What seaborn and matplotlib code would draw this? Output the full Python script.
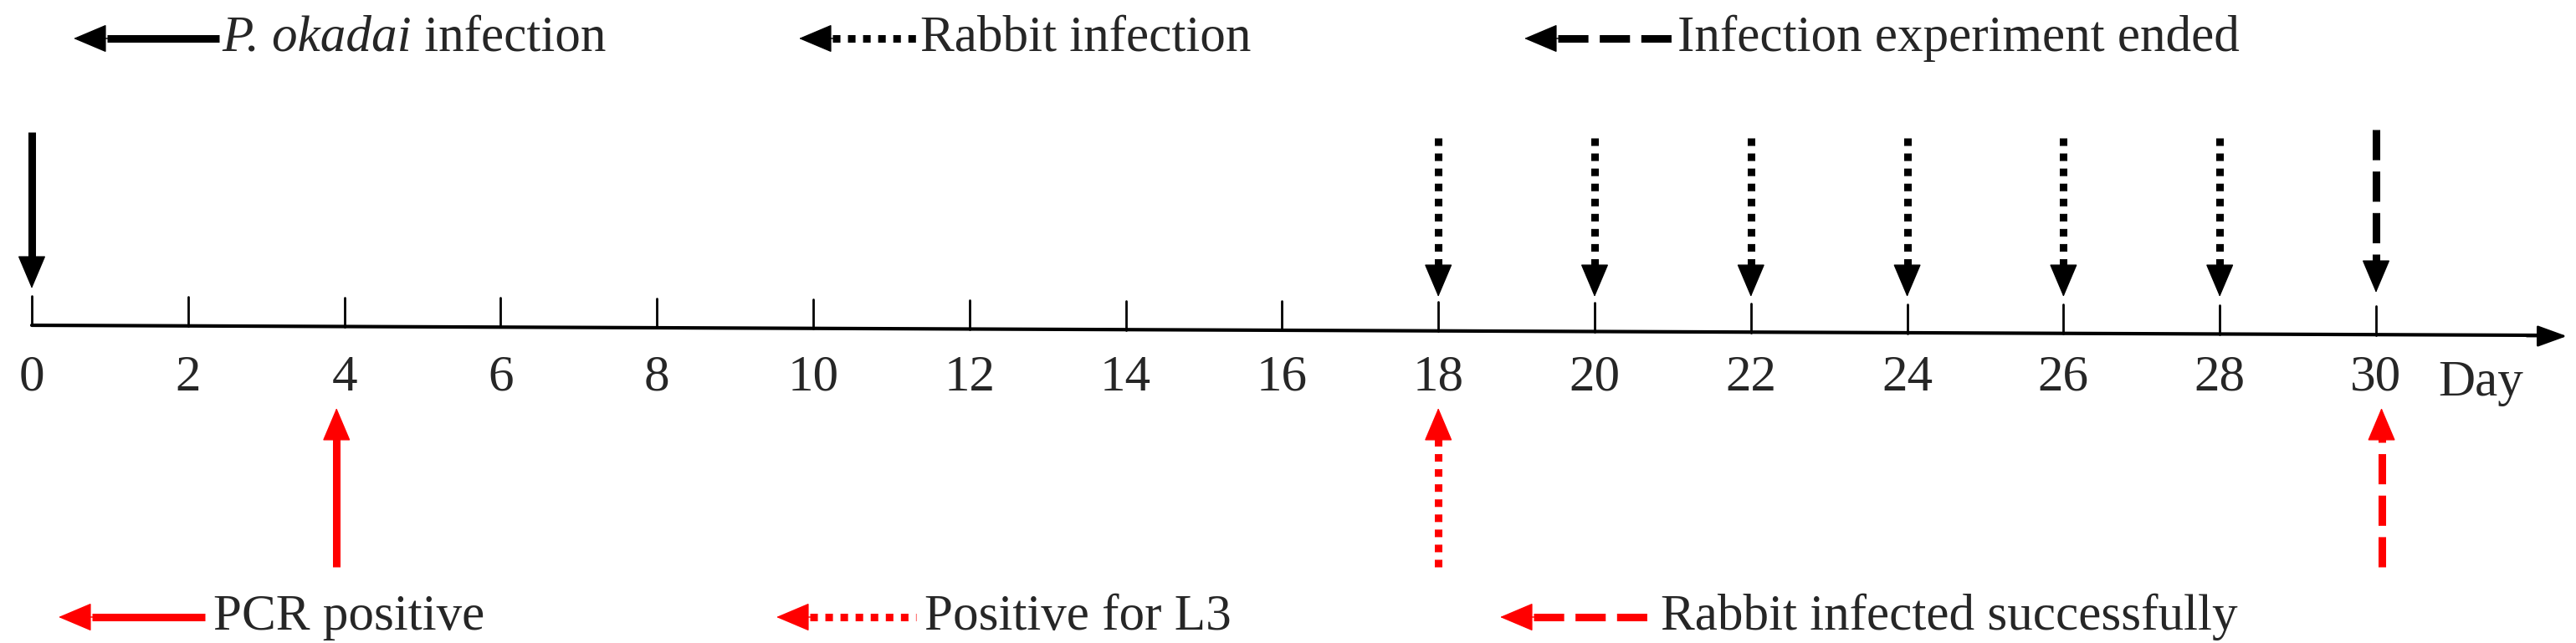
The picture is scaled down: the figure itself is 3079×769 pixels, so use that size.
import matplotlib
matplotlib.use("Agg")
import matplotlib.pyplot as plt
import seaborn as sns

sns.set_theme(style="white")
plt.rcParams['font.family'] = ['Liberation Serif', 'DejaVu Serif']

# data
tick_days = list(range(0, 31, 2))
infection_day = [0]
rabbit_days = [18, 20, 22, 24, 26, 28]
ended_day = [30]
pcr_day = [4]
l3_day = [18]
success_day = [30]

W, H = 3079, 769
PX0, PXD = 38, 93.4
def d(px):
    return (px - PX0) / PXD

fig = plt.figure(figsize=(W/100, H/100), dpi=100)
ax = fig.add_axes([0, 0, 1, 1])
ax.set_xlim(d(0), d(W))
ax.set_ylim(H, 0)
ax.axis("off")

AXY = 393
sns.lineplot(x=[0, d(3040)], y=[AXY - 4, AXY + 8], ax=ax, color="black", lw=3)
ax.annotate("", xy=(d(3068), AXY + 9), xytext=(d(3020), AXY + 9),
            arrowprops=dict(arrowstyle="-|>,head_width=0.4,head_length=1.1", mutation_scale=20,
                            color="black", lw=2, shrinkA=0, shrinkB=0))
for t in tick_days:
    yy = AXY - 4 + 12 * t / 30
    ax.plot([t, t], [yy, yy - 35], color="black", lw=2)
    ax.text(t, 452, str(t), ha="center", va="center", fontsize=44)
ax.text(d(2965), 458, "Day", ha="center", va="center", fontsize=44)

HEAD = "-|>,head_width=0.55,head_length=1.3"

def varrow(x, y0, y1, color, ls):
    hl = 35 if y1 > y0 else -35
    ax.plot([x, x], [y0, y1 - hl], color=color, lw=6.5, linestyle=ls, solid_capstyle="butt", dash_capstyle="butt")
    ax.annotate("", xy=(x, y1), xytext=(x, y1 - hl - 2),
                arrowprops=dict(arrowstyle=HEAD, mutation_scale=20, color=color, lw=1, shrinkA=0, shrinkB=0))

def harrow(x0, x1, y, color, ls):
    ax.plot([d(x0 + 40), d(x1)], [y, y], color=color, lw=6.5, linestyle=ls, solid_capstyle="butt", dash_capstyle="butt")
    ax.annotate("", xy=(d(x0), y), xytext=(d(x0 + 42), y),
                arrowprops=dict(arrowstyle=HEAD, mutation_scale=20, color=color, lw=1, shrinkA=0, shrinkB=0))

DOT = (0, (1, 1))
DASH = (0, (4, 1.5))

for x in infection_day:
    varrow(x, 158, 345, "black", "-")
for x in rabbit_days:
    varrow(x, 165, 355, "black", DOT)
for x in ended_day:
    varrow(x, 155, 350, "black", DASH)
for x in pcr_day:
    varrow(x - 0.1, 678, 488, "red", "-")
for x in l3_day:
    varrow(x, 678, 488, "red", DOT)
for x in success_day:
    varrow(x + 0.07, 678, 488, "red", DASH)

FS = 44
TY = 46
harrow(88, 262, TY, "black", "-")
it = ax.text(d(265), TY, "P. okadai", ha="left", va="center", fontsize=FS, fontstyle="italic")
ax.annotate(" infection", xy=(1, 0.5), xycoords=it, ha="left", va="center", fontsize=FS)
harrow(955, 1095, TY, "black", DOT)
ax.text(d(1100), TY, "Rabbit infection", ha="left", va="center", fontsize=FS)
harrow(1822, 2000, TY, "black", DASH)
ax.text(d(2005), TY, "Infection experiment ended", ha="left", va="center", fontsize=FS)

BY = 738
harrow(70, 245, BY, "red", "-")
ax.text(d(255), BY, "PCR positive", ha="left", va="center", fontsize=FS)
harrow(928, 1095, BY, "red", DOT)
ax.text(d(1105), BY, "Positive for L3", ha="left", va="center", fontsize=FS)
harrow(1793, 1970, BY, "red", DASH)
ax.text(d(1985), BY, "Rabbit infected successfully", ha="left", va="center", fontsize=FS)

fig.savefig("out.png", dpi=100)
